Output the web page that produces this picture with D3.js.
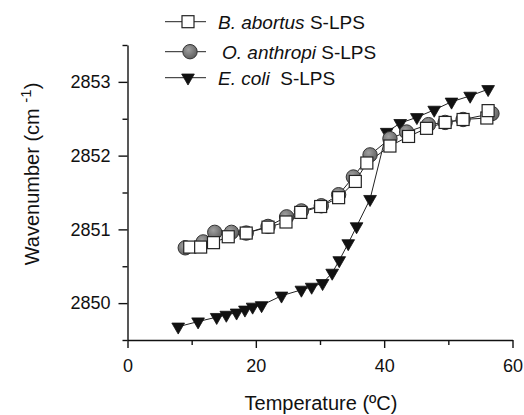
<!DOCTYPE html>
<html>
<head>
<meta charset="utf-8">
<script src="https://cdn.jsdelivr.net/npm/d3@7"></script>
<style>
body{margin:0;background:#fff;}
text{font-family:"Liberation Sans",Arial,sans-serif;fill:#111;}
</style>
</head>
<body>
<script>
var w=524,h=415;

// B. abortus S-LPS (squares)
var abortusT=[9.7,11.4,13.4,15.7,18.5,21.9,24.7,27.0,30.1,32.9,35.5,37.3,40.9,43.8,46.6,49.5,52.3,56.0,56.2];
var abortusW=[2850.76,2850.76,2850.82,2850.90,2850.95,2851.03,2851.10,2851.23,2851.31,2851.43,2851.65,2851.90,2852.13,2852.26,2852.37,2852.45,2852.49,2852.51,2852.61];
// O. anthropi S-LPS (grey circles)
var anthropiT=[9.0,11.8,13.6,16.2,18.5,21.9,24.8,27.1,30.2,32.9,35.2,37.8,40.9,43.5,46.9,49.5,52.3,56.8];
var anthropiW=[2850.75,2850.83,2850.96,2850.96,2850.95,2851.04,2851.17,2851.25,2851.32,2851.47,2851.71,2852.01,2852.23,2852.32,2852.42,2852.45,2852.49,2852.57];
// E. coli S-LPS (triangles)
var coliT=[7.9,11.0,13.9,15.4,17.0,18.3,19.5,20.9,24.0,27.1,28.7,30.4,31.9,33.0,34.4,35.7,37.8,40.4,42.5,45.1,47.8,50.5,53.4,56.2];
var coliW=[2849.68,2849.75,2849.81,2849.84,2849.87,2849.91,2849.95,2849.97,2850.10,2850.18,2850.22,2850.27,2850.41,2850.58,2850.81,2851.04,2851.41,2852.32,2852.44,2852.52,2852.62,2852.73,2852.81,2852.90];

var xTicks=[0,20,40,60];
var xMinor=[10,30,50];
var yTicks=[2850,2851,2852,2853];
var yMinor=[2849.5,2850.5,2851.5,2852.5,2853.5];

var svg=d3.select("body").append("svg").attr("width",w).attr("height",h);

var defs=svg.append("defs");
var grad=defs.append("radialGradient").attr("id","gball").attr("cx","40%").attr("cy","35%").attr("r","65%");
grad.append("stop").attr("offset","0%").attr("stop-color","#a0a0a0");
grad.append("stop").attr("offset","100%").attr("stop-color","#606060");

var x=d3.scaleLinear().domain([0,60]).range([127.5,512.5]);
var y=d3.scaleLinear().domain([2849.5,2853.5]).range([340,45]);

// axes
var xg=svg.append("g").attr("transform","translate(0,340)");
xg.call(d3.axisBottom(x).tickValues(xTicks).tickSize(8).tickPadding(11).tickSizeOuter(0));
xg.append("g").call(d3.axisBottom(x).tickValues(xMinor).tickSize(5).tickFormat("")).select(".domain").remove();
var yg=svg.append("g").attr("transform","translate(127.5,0)");
yg.call(d3.axisLeft(y).tickValues(yTicks).tickSize(9).tickPadding(8).tickSizeOuter(0).tickFormat(d3.format("d")));
yg.append("g").call(d3.axisLeft(y).tickValues(yMinor).tickSize(5).tickFormat("")).select(".domain").remove();
svg.selectAll(".domain,.tick line").attr("stroke","#111").attr("stroke-width",1.4);
svg.selectAll(".tick text").style("font-size","18px").style("font-family","Liberation Sans, Arial, sans-serif").attr("fill","#111");

// axis titles
svg.append("text").attr("x",321).attr("y",410).attr("text-anchor","middle")
  .style("font-size","20px").text("Temperature (ºC)");
var yt=svg.append("text").attr("transform","translate(39,174) rotate(-90)").attr("text-anchor","middle")
  .style("font-size","20px");
yt.append("tspan").text("Wavenumber (cm ");
yt.append("tspan").attr("dy",-8).style("font-size","15px").text("-1");
yt.append("tspan").attr("dy",8).text(")");

var line=d3.line().x(function(d){return x(d[0]);}).y(function(d){return y(d[1]);});
var zip=function(a,b){return a.map(function(v,i){return [v,b[i]];});};

var coli=zip(coliT,coliW), anth=zip(anthropiT,anthropiW), abor=zip(abortusT,abortusW);

var tri=d3.symbol().type(d3.symbolTriangle).size(70);
var drawTri=function(sel){
  sel.append("path").attr("d",tri).attr("fill","#111").attr("stroke","#111").attr("stroke-width",0.8);
};

svg.append("path").datum(coli).attr("d",line).attr("fill","none").attr("stroke","#222").attr("stroke-width",1);
svg.append("path").datum(anth).attr("d",line).attr("fill","none").attr("stroke","#222").attr("stroke-width",1);
svg.append("path").datum(abor).attr("d",line).attr("fill","none").attr("stroke","#222").attr("stroke-width",1);

svg.append("g").selectAll("g").data(coli).enter().append("g")
  .attr("transform",function(d){return "translate("+x(d[0])+","+y(d[1])+") rotate(180)";})
  .call(drawTri);

svg.append("g").selectAll("circle").data(anth).enter().append("circle")
  .attr("cx",function(d){return x(d[0]);}).attr("cy",function(d){return y(d[1]);})
  .attr("r",7.2).attr("fill","url(#gball)").attr("stroke","#333").attr("stroke-width",1);

svg.append("g").selectAll("rect").data(abor).enter().append("rect")
  .attr("x",function(d){return x(d[0])-6;}).attr("y",function(d){return y(d[1])-6;})
  .attr("width",12).attr("height",12).attr("fill","#fff").attr("stroke","#222").attr("stroke-width",1.2);

// legend
var legend=[
  {name:"B. abortus",rest:" S-LPS",type:"square",cy:21.7,tx:218},
  {name:"O. anthropi",rest:" S-LPS",type:"circle",cy:51.7,tx:222},
  {name:"E. coli",rest:"  S-LPS",type:"tri",cy:77.7,tx:218}
];
legend.forEach(function(l){
  var g=svg.append("g");
  g.append("line").attr("x1",165).attr("x2",206).attr("y1",l.cy).attr("y2",l.cy).attr("stroke","#222").attr("stroke-width",1);
  if(l.type=="square"){
    g.append("rect").attr("x",182).attr("y",l.cy-6).attr("width",12).attr("height",12).attr("fill","#fff").attr("stroke","#222").attr("stroke-width",1.2);
  }else if(l.type=="circle"){
    g.append("circle").attr("cx",190).attr("cy",l.cy).attr("r",7.2).attr("fill","url(#gball)").attr("stroke","#333");
  }else{
    g.append("g").attr("transform","translate(188,"+l.cy+") rotate(180)").call(drawTri);
  }
  var t=g.append("text").attr("x",l.tx).attr("y",l.cy+7).style("font-size","19px").style("white-space","pre");
  t.append("tspan").style("font-style","italic").text(l.name);
  t.append("tspan").text(l.rest);
});
</script>
</body>
</html>
